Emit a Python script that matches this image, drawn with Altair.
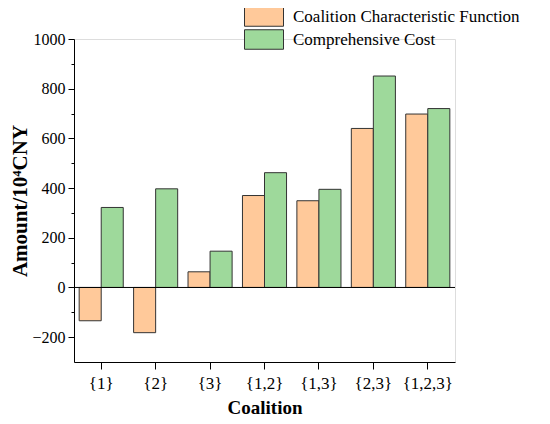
import altair as alt
import pandas as pd

coalitions = ["{1}", "{2}", "{3}", "{1,2}", "{1,3}", "{2,3}", "{1,2,3}"]
series_names = ["Coalition Characteristic Function", "Comprehensive Cost"]
char_func = [-134, -182, 63, 370, 349, 640, 698]
comp_cost = [322, 397, 146, 462, 395, 851, 720]
colors = ["#FFC99A", "#9ED99B"]
major_ticks = [-200, 0, 200, 400, 600, 800, 1000]
minor_ticks = [-100, 100, 300, 500, 700, 900]

rows = []
for c, v in zip(coalitions, char_func):
    rows.append({"coalition": c, "series": series_names[0], "value": v})
for c, v in zip(coalitions, comp_cost):
    rows.append({"coalition": c, "series": series_names[1], "value": v})
df = pd.DataFrame(rows)

FONT = "Liberation Serif"

yscale = alt.Scale(domain=[-300, 1000], nice=False, zero=False)

bars = alt.Chart(df).mark_bar(stroke="#333333", strokeWidth=1).encode(
    x=alt.X(
        "coalition:N",
        sort=coalitions,
        scale=alt.Scale(paddingInner=0.19, paddingOuter=0.095),
        axis=alt.Axis(
            title="Coalition",
            titleFont=FONT,
            titleFontSize=19,
            titleFontWeight="bold",
            titleBaseline="alphabetic",
            titleY=51,
            labelFont=FONT,
            labelFontSize=17,
            labelAngle=0,
            labelPadding=6,
            labelColor="black",
            tickSize=7,
            tickColor="black",
            domainColor="black",
            titleColor="black",
        ),
    ),
    xOffset=alt.XOffset(
        "series:N",
        sort=series_names,
        scale=alt.Scale(paddingInner=0, paddingOuter=0),
    ),
    y=alt.Y(
        "value:Q",
        scale=yscale,
        axis=alt.Axis(
            title="Amount/10⁴CNY",
            titleFont=FONT,
            titleFontSize=21,
            titleFontWeight="bold",
            titleColor="black",
            titlePadding=1,
            labelFont=FONT,
            labelFontSize=16,
            labelColor="black",
            labelPadding=3,
            format="d",
            values=major_ticks,
            tickSize=6,
            tickColor="black",
            domainColor="black",
            grid=False,
        ),
    ),
    color=alt.Color(
        "series:N",
        sort=series_names,
        scale=alt.Scale(domain=series_names, range=colors),
        legend=alt.Legend(
            title=None,
            orient="none",
            legendX=181.5,
            legendY=-31,
            symbolType="M-3.9,-1.95H3.9V1.95H-3.9Z",
            symbolSize=100,
            symbolStrokeColor="#333333",
            symbolStrokeWidth=1,
            symbolOpacity=1,
            labelFont=FONT,
            labelFontSize=17,
            labelColor="black",
            labelOffset=20.5,
            labelLimit=0,
            rowPadding=-2,
        ),
    ),
)

minor = alt.Chart(pd.DataFrame({"v": minor_ticks})).mark_point(opacity=0).encode(
    y=alt.Y(
        "v:Q",
        scale=yscale,
        axis=alt.Axis(
            orient="left",
            title=None,
            labels=False,
            domain=False,
            grid=False,
            values=minor_ticks,
            tickSize=3,
            tickColor="black",
        ),
    ),
)

zero = alt.Chart(pd.DataFrame({"z": [0]})).mark_rule(color="black", strokeWidth=1).encode(
    y=alt.Y("z:Q", scale=yscale, axis=None)
)

chart = (
    alt.layer(bars, zero, minor)
    .resolve_scale(y="shared")
    .resolve_axis(y="independent")
    .properties(
        width=381,
        height=323,
        autosize=alt.AutoSizeParams(type="none"),
        padding={"left": 66, "top": 31, "right": 87, "bottom": 54},
    )
    .configure_view(stroke=None)
    .configure(background="white")
)

chart.save("out.html", embed_options={"renderer": "svg", "actions": False})
